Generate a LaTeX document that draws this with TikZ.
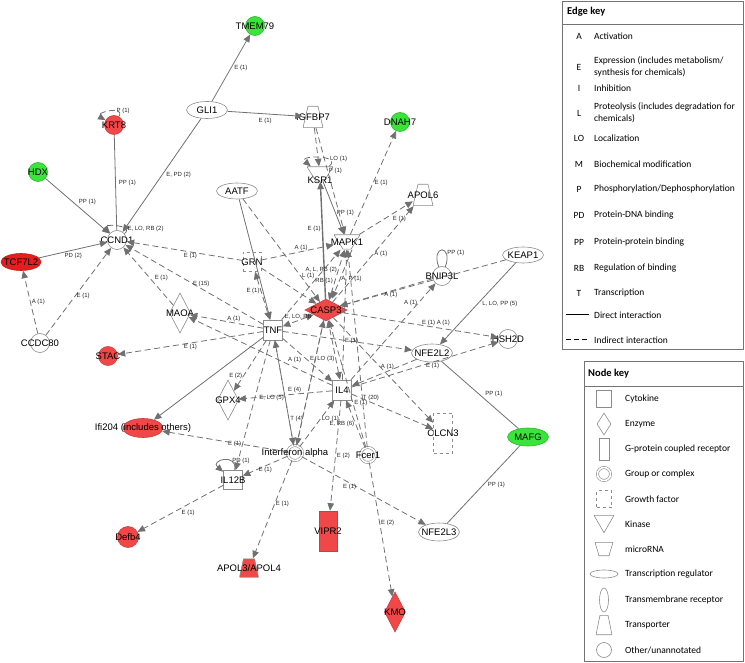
\documentclass[tikz,border=0pt]{standalone}
\usepackage{fontspec}
\setmainfont{Liberation Sans}
\newfontfamily\keyfont{Carlito}
\usetikzlibrary{arrows.meta,shapes.geometric,positioning,calc}

\definecolor{upreg}{RGB}{240,72,72}
\definecolor{upstrong}{RGB}{228,30,30}
\definecolor{downreg}{RGB}{58,228,58}
\definecolor{linegray}{RGB}{112,112,112}
\definecolor{shapegray}{RGB}{140,140,140}

\begin{document}
\begin{tikzpicture}[
  x=1pt, y=1pt,
  font=\fontsize{9.5}{11}\selectfont,
  >={Triangle[length=7.5pt,width=6.5pt]},
  % network shapes
  tx/.style={label={center:#1}},
  gene/.style={circle, draw=shapegray, line width=0.6pt, fill=white, minimum size=19pt, inner sep=0pt},
  treg/.style={ellipse, draw=shapegray, line width=0.6pt, fill=white, minimum width=41pt, minimum height=17pt, inner sep=0pt},
  cytok/.style={rectangle, draw=shapegray, line width=0.6pt, fill=white, minimum width=19pt, minimum height=20pt, inner sep=0pt},
  enzyme/.style={diamond, draw=shapegray, line width=0.6pt, fill=white, minimum width=21pt, minimum height=40pt, inner sep=0pt},
  % #1 fill, #2 inset at the top, #3 inset at the bottom
  trapo/.style n args={3}{rectangle, inner sep=0pt, path picture={
      \draw[draw=shapegray, line width=0.6pt, fill=#1]
        ([xshift=#2, yshift=-0.3pt]path picture bounding box.north west)
        -- ([xshift=-#2, yshift=-0.3pt]path picture bounding box.north east)
        -- ([xshift=-#3, yshift=0.3pt]path picture bounding box.south east)
        -- ([xshift=#3, yshift=0.3pt]path picture bounding box.south west) -- cycle;}},
  kinase/.style={trapo={white}{0pt}{9pt}, minimum width=26pt, minimum height=15pt},
  transp/.style={trapo={white}{5pt}{0pt}, minimum width=20pt, minimum height=22pt},
  growth/.style={rectangle, draw=shapegray, line width=0.6pt, dashed, fill=white, minimum width=18pt, minimum height=19pt, inner sep=0pt},
  gpcr/.style={rectangle, draw=shapegray, line width=0.6pt, fill=white, minimum width=18pt, minimum height=40pt, inner sep=0pt},
  group/.style={circle, draw=shapegray, line width=0.6pt, double=white, double distance=1.6pt, fill=white, minimum size=15pt, inner sep=0pt},
  up/.style={fill=upreg, draw=upreg!85!black},
  upup/.style={fill=upstrong, draw=upstrong!85!black},
  down/.style={fill=downreg, draw=downreg!80!black},
  % connectors
  link/.style={draw=linegray, line width=0.8pt},
  act/.style={link, ->},
  indl/.style={link, dash pattern=on 6pt off 3.5pt},
  ind/.style={indl, ->},
  bind/.style={indl, <->},
  elab/.style={font=\fontsize{6}{7}\selectfont, text=black!85, inner sep=1pt},
  % keys
  keybox/.style={draw=black!55, line width=0.9pt},
  keyhead/.style={font=\keyfont\bfseries\fontsize{10.5}{12}\selectfont, anchor=west, inner sep=0pt},
  keytext/.style={font=\keyfont\fontsize{9.5}{12}\selectfont, anchor=west, align=left, inner sep=0pt}
]

\useasboundingbox (0,0) rectangle (745,-663);

% ---- molecules
\node[gene, down, tx=TMEM79] (tmem) at (255,-26) {};
\node[treg, tx=GLI1] (gli) at (207,-110) {};
\node[transp, tx=IGFBP7] (igf) at (313,-117) {};
\node[gene, down, tx=DNAH7] (dnah) at (400,-122) {};
\node[gene, up, tx=KRT8] (krt) at (114,-125) {};
\node[gene, down, tx=HDX] (hdx) at (38,-172) {};
\node[kinase, label={[yshift=-6pt]center:KSR1}] (ksr) at (320,-174) {};
\node[treg, minimum height=16pt, tx=AATF] (aatf) at (237,-191) {};
\node[transp, tx=APOL6] (apol6) at (423,-195) {};
\node[gene, tx=CCND1] (ccnd) at (117,-240) {};
\node[kinase, tx=MAPK1] (mapk) at (347,-242) {};
\node[growth, tx=GRN] (grn) at (252,-262) {};
\node[treg, minimum height=16pt, tx=KEAP1] (keap) at (523,-255) {};
\node[gene, tx=BNIP3L] (bnip) at (442,-276) {};
\node[treg, upup, minimum width=40pt, tx=TCF7L2] (tcf) at (21,-262) {};
\node[enzyme, up, minimum width=42pt, minimum height=22pt, tx=CASP3] (casp) at (326,-310) {};
\node[enzyme, tx=MAOA] (maoa) at (180,-313) {};
\node[cytok, tx=TNF] (tnf) at (273,-330) {};
\node[gene, tx=CCDC80] (ccdc) at (40,-343) {};
\node[gene, tx=HSH2D] (hsh) at (508,-339) {};
\node[gene, up, tx=STAC] (stac) at (108,-356) {};
\node[treg, minimum height=18pt, tx=NFE2L2] (nfe2) at (432,-353) {};
\node[cytok, tx=IL4] (il4) at (342,-390) {};
\node[enzyme, tx=GPX4] (gpx) at (228,-400) {};
\node[treg, up, minimum width=40pt, minimum height=19pt, tx=Ifi204 (includes others)] (ifi) at (143,-428) {};
\node[growth, minimum width=19pt, minimum height=40pt, tx=CLCN3] (clcn) at (443,-433) {};
\node[treg, down, minimum height=18pt, tx=MAFG] (mafg) at (528,-437) {};
\node[group, tx=Interferon alpha] (ifna) at (295,-453) {};
\node[group, tx=Fcer1] (fcer) at (368,-455) {};
\node[cytok, minimum height=19pt, tx=IL12B] (il12) at (233,-480) {};
\node[gpcr, up, tx=VIPR2] (vipr) at (328,-531) {};
\node[treg, minimum height=18pt, tx=NFE2L3] (nfe3) at (439,-532) {};
\node[gene, up, minimum size=21pt, tx=Defb4] (defb) at (128,-537) {};
\node[trapo={upreg}{4pt}{0pt}, minimum width=19pt, minimum height=19pt, tx=APOL3/APOL4] (apol34) at (249,-568) {};
\node[enzyme, up, tx=KMO] (kmo) at (395,-612) {};

% ---- direct interactions
\draw[act] (gli) -- node[elab, right=2pt] {E (1)} (tmem);
\draw[act] (gli) -- node[elab, below=3pt] {E (1)} (igf);
\draw[act] (gli) -- node[elab, right=3pt] {E, PD (2)} (ccnd);
\draw[link] (krt) -- node[elab, right=2pt] {PP (1)} (ccnd);
\draw[act] (hdx) -- node[elab, above right] {PP (1)} (ccnd);
\draw[act] (tcf) -- node[elab, below=2pt] {PD (2)} (ccnd);
\draw[act] (aatf) -- (tnf);
\draw[act] (keap) -- node[elab, right=3pt] {L, LO, PP (5)} (nfe2);
\draw[link] (nfe2) -- node[elab, above right, pos=.55] {PP (1)} (mafg);
\draw[link] (mafg) -- node[elab, right=3pt] {PP (1)} (nfe3);
\draw[act] (ksr) -- node[elab, right, pos=.6] {PP (1)} (mapk);
\draw[act, line width=1.4pt] (casp) -- node[elab, left, pos=.6] {E (1)} (ksr);
\draw[act] (tnf) -- (ifi);
\draw[link] (bnip) to[out=70, in=110, min distance=24pt] node[elab, right, pos=.3] {PP (1)} (bnip);
\draw[act] (il12) to[out=80, in=140, min distance=18pt] node[elab, right, pos=.3] {PD (1)} (il12);

% ---- indirect interactions
\draw[ind] (krt) to[out=60, in=150, min distance=14pt] node[elab, right, pos=.35] {P (1)} (krt);
\draw[ind] (ccnd) to[out=40, in=135, min distance=14pt] node[elab, right, pos=.2] {E, LO, RB (2)} (ccnd);
\draw[ind] (ksr) to[out=40, in=140, min distance=18pt] node[elab, right, pos=.3] {LO (1)} (ksr);
\draw[ind] (igf) -- (ksr);
\draw[ind] (igf) -- node[elab, right, pos=.4] {P (1)} (mapk);
\draw[ind] (mapk) -- node[elab, right, pos=.5] {E (1)} (dnah);
\draw[ind] (mapk) -- node[elab, below right, pos=.6] {E (1)} (apol6);
\draw[ind] (casp) -- node[elab, right, pos=.5] {A (1)} (apol6);
\draw[ind] (keap) -- (casp);
\draw[ind] (bnip) -- node[elab, below, pos=.45] {A (1)} (casp);
\draw[ind] (il4) -- node[elab, left, pos=.8] {A (1)} (bnip);
\draw[ind] (casp) -- node[elab, above, pos=.6] {E (1) A (1)} (hsh);
\draw[ind] (il4) -- node[elab, below, pos=.55] {E (1)} (hsh);
\draw[ind] (tnf) -- (nfe2);
\draw[ind] (nfe2) -- node[elab, above, pos=.45] {A (1)} (il4);
\draw[ind] (casp) -- (clcn);
\draw[ind] (il4) -- node[elab, right, pos=.12] {T (20)} (clcn);
\draw[ind] (ifna) -- node[elab, left, pos=.45] {E (1)} (nfe3);
\draw[ind] (fcer) -- node[elab, right, pos=.45] {E (2)} (kmo);
\draw[ind] (il4) -- node[elab, right, pos=.5] {E (2)} (vipr);
\draw[ind] (ifna) -- node[elab, right, pos=.45] {E (1)} (apol34);
\draw[ind] (ifna) -- node[elab, below, pos=.5] {E (1)} (il12);
\draw[ind] (tnf) -- node[elab, left, pos=.8] {E (1)} (il12);
\draw[ind] (il12) -- node[elab, below right, pos=.5] {E (1)} (defb);
\draw[ind] (ifna) -- (ifi);
\draw[ind] (ifna) -- node[elab, right, pos=.6] {LO (1)} (il4);
\draw[ind] (fcer) -- node[elab, left, pos=.5] {E, RB (6)} (il4);
\draw[ind] (fcer) -- node[elab, right, pos=.35] {E (1)} (casp);
\draw[ind] (tnf) -- node[elab, right, pos=.75] {T (4)} (ifna);
\draw[ind] (casp) -- (ifna);
\draw[ind] (il4) -- node[elab, above, pos=.4] {E (4)} (gpx);
\draw[ind] (tnf) -- node[elab, left, pos=.7] {E (2)} (gpx);
\draw[ind] (ifna) -- node[elab, left, pos=.45] {E, LO (5)} (tnf);
\draw[ind] (tnf) -- node[elab, below left, pos=.4] {A (1)} (il4);
\draw[bind] (il4) -- node[elab, left, pos=.35] {E, LO (3)} (casp);
\draw[ind] (ifna) -- (casp);
\draw[ind] (tnf) -- node[elab, above, pos=.4] {A (1)} (maoa);
\draw[ind] (il4) -- (maoa);
\draw[ind] (tnf) -- node[elab, below, pos=.5] {E (1)} (stac);
\draw[ind] (tnf) -- node[elab, above, pos=.45] {E (15)} (ccnd);
\draw[ind] (grn) -- node[elab, below, pos=.45] {E (1)} (ccnd);
\draw[ind] (maoa) -- node[elab, above right, pos=.4] {E (1)} (ccnd);
\draw[ind] (ccdc) -- node[elab, right, pos=.45] {E (1)} (ccnd);
\draw[ind] (ccdc) -- node[elab, right, pos=.5] {A (1)} (tcf);
\draw[bind] (grn) -- node[elab, left, pos=.4] {E (1)} (tnf);
\draw[ind] (grn) -- (casp);
\draw[ind] (grn) -- node[elab, above, pos=.55] {A (1)} (mapk);
\draw[bind] (casp) -- node[elab, left, pos=.6] {A, L, RB (2)} (mapk);
\draw[ind] ([xshift=5pt]mapk.south) -- node[elab, right, pos=.6] {A, P (1)} ([xshift=6pt]casp.north);
\draw[ind] (il4) -- node[elab, right, pos=.3] {E (1)} (mapk);
\draw[ind] (fcer) -- (mapk);
\draw[ind] (aatf) -- node[elab, right, pos=.75] {L (1)} (casp);
\draw[ind] (tnf) -- node[elab, right, pos=.55] {RB (1)} (mapk);
\draw[bind] (casp) -- node[elab, above, pos=.5] {E, LO, RB} (tnf);

% ---- edge key
\draw[keybox] (562,-1) rectangle (743,-349);
\draw[keybox] (562,-24) -- (743,-24);
\node[keyhead] (ekhead) at (567,-12) {Edge key};
\foreach \y/\c/\t in {36/A/Activation,
    67/E/{Expression (includes metabolism/\\synthesis for chemicals)},
    88/I/Inhibition,
    113/L/{Proteolysis (includes degradation for\\chemicals)},
    138/LO/Localization,
    164/M/Biochemical modification,
    189/P/{Phosphorylation/Dephosphorylation},
    215/PD/Protein-DNA binding,
    242/PP/Protein-protein binding,
    268/RB/Regulation of binding,
    293/T/Transcription}{
  \node[keytext, anchor=center] (ek\c) at (579,-\y) {\c};
  \node[keytext] (et\c) at (594,-\y) {\t};
}
\coordinate (dl) at (566,-315);
\coordinate (dr) at (589,-315);
\coordinate (il) at (566,-340);
\coordinate (ir) at (589,-340);
\draw[black, line width=1pt] (dl) -- (dr);
\draw[black, line width=1pt, dash pattern=on 5pt off 3pt] (il) -- (ir);
\node[keytext] (etdirect) at (594,-315) {Direct interaction};
\node[keytext] (etindirect) at (594,-340) {Indirect interaction};

% ---- node key
\draw[keybox] (584,-361) rectangle (743,-661);
\draw[keybox] (584,-386) -- (743,-386);
\node[keyhead] (nkhead) at (588,-374) {Node key};
\node[cytok, minimum width=15pt, minimum height=17pt] (kcyto) at (604,-399) {};
\node[enzyme, minimum width=14pt, minimum height=22pt] (kenz) at (604,-424) {};
\node[gpcr, minimum width=10pt, minimum height=22pt] (kgpcr) at (604,-449) {};
\node[group, minimum size=13pt] (kgroup) at (604,-474) {};
\node[growth, minimum width=15pt, minimum height=17pt] (kgrowth) at (604,-499) {};
\node[trapo={white}{0pt}{10pt}, minimum width=20pt, minimum height=18pt] (kkin) at (604,-524) {};
\node[trapo={white}{0pt}{4pt}, minimum width=18pt, minimum height=14pt] (kmir) at (604,-549) {};
\node[treg, minimum width=28pt, minimum height=8pt] (ktreg) at (604,-574) {};
\node[ellipse, draw=shapegray, line width=0.6pt, minimum width=9pt, minimum height=24pt, inner sep=0pt] (ktm) at (604,-600) {};
\node[trapo={white}{4pt}{0pt}, minimum width=16pt, minimum height=20pt] (ktrans) at (604,-625) {};
\node[gene, minimum size=15pt] (kother) at (604,-650) {};
\node[keytext] (ntcyto) at (625,-399) {Cytokine};
\node[keytext] (ntenz) at (625,-424) {Enzyme};
\node[keytext] (ntgpcr) at (625,-449) {G-protein coupled receptor};
\node[keytext] (ntgroup) at (625,-474) {Group or complex};
\node[keytext] (ntgrowth) at (625,-499) {Growth factor};
\node[keytext] (ntkin) at (625,-524) {Kinase};
\node[keytext] (ntmir) at (625,-549) {microRNA};
\node[keytext] (nttreg) at (625,-574) {Transcription regulator};
\node[keytext] (nttm) at (625,-600) {Transmembrane receptor};
\node[keytext] (nttrans) at (625,-625) {Transporter};
\node[keytext] (ntother) at (625,-650) {Other/unannotated};

\end{tikzpicture}
\end{document}
